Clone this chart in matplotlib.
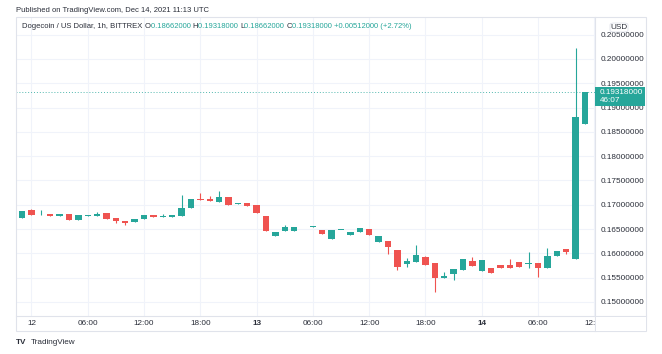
import matplotlib.pyplot as plt
import matplotlib.dates as mdates
from matplotlib.patches import Rectangle, FancyBboxPatch
from matplotlib.ticker import FuncFormatter
import pandas as pd
import numpy as np

#Hourly DOGE/USD candles, BITTREX, Dec 11 23:00 -> Dec 14 11:00 UTC
start = '2021-12-11 23:00'
opens = [0.1673, 0.1689, 0.1680, 0.1681, 0.1676, 0.1680, 0.1668, 0.1677, 0.1677, 0.1683,
         0.1672, 0.1667, 0.1665, 0.1670, 0.1678, 0.1674, 0.1674, 0.1676, 0.1693, 0.1712,
         0.1711, 0.1706, 0.1717, 0.1701, 0.1703, 0.1700, 0.1677, 0.1635, 0.1646, 0.1647,
         0.1652, 0.1655, 0.1648, 0.1629, 0.1648, 0.1637, 0.1643, 0.1650, 0.1624, 0.1626,
         0.1607, 0.1578, 0.1583, 0.1593, 0.1581, 0.1549, 0.1557, 0.1566, 0.1585, 0.1564,
         0.1570, 0.1577, 0.1576, 0.1583, 0.1578, 0.1580, 0.1570, 0.1594, 0.1608, 0.1588,
         0.18662]
closes = [0.1687, 0.1679, 0.1682, 0.1676, 0.1681, 0.1668, 0.1678, 0.1678, 0.1682, 0.1671,
          0.1666, 0.1663, 0.1671, 0.1678, 0.1674, 0.1676, 0.1678, 0.1693, 0.1711, 0.1709,
          0.1707, 0.1717, 0.1700, 0.1704, 0.1697, 0.1684, 0.1646, 0.1643, 0.1654, 0.1655,
          0.1653, 0.1656, 0.1640, 0.1649, 0.1649, 0.1643, 0.1652, 0.1638, 0.1635, 0.1613,
          0.1572, 0.1585, 0.1597, 0.1576, 0.1549, 0.1553, 0.1567, 0.1588, 0.1574, 0.1586,
          0.1559, 0.1570, 0.1569, 0.1572, 0.1579, 0.1570, 0.1594, 0.1604, 0.1603, 0.1881,
          0.19318]
highs = [0.1688, 0.1691, 0.1689, 0.1682, 0.1681, 0.1680, 0.1678, 0.1678, 0.1685, 0.1683,
         0.1672, 0.1667, 0.1671, 0.1678, 0.1678, 0.1680, 0.1678, 0.1721, 0.1711, 0.1724,
         0.1718, 0.1728, 0.1717, 0.1704, 0.1703, 0.1700, 0.1677, 0.1643, 0.1658, 0.1655,
         0.1653, 0.1656, 0.1648, 0.1649, 0.1649, 0.1643, 0.1652, 0.1650, 0.1635, 0.1626,
         0.1607, 0.1590, 0.1618, 0.1595, 0.1581, 0.1562, 0.1567, 0.1588, 0.1593, 0.1586,
         0.1570, 0.1577, 0.1588, 0.1583, 0.1602, 0.1580, 0.1611, 0.1604, 0.1608, 0.2022,
         0.19318]
lows = [0.1672, 0.1678, 0.1679, 0.1676, 0.1676, 0.1668, 0.1668, 0.1677, 0.1677, 0.1671,
        0.1663, 0.1658, 0.1665, 0.1670, 0.1674, 0.1674, 0.1674, 0.1676, 0.1693, 0.1709,
        0.1707, 0.1706, 0.1700, 0.1701, 0.1697, 0.1684, 0.1646, 0.1635, 0.1646, 0.1647,
        0.1652, 0.1655, 0.1640, 0.1629, 0.1648, 0.1637, 0.1643, 0.1638, 0.1624, 0.1598,
        0.1566, 0.1571, 0.1583, 0.1576, 0.1520, 0.1549, 0.1546, 0.1566, 0.1574, 0.1564,
        0.1559, 0.1570, 0.1569, 0.1572, 0.1570, 0.1552, 0.1570, 0.1594, 0.1598, 0.1588,
        0.18662]
last_close = 0.19318
legend_name = 'Dogecoin / US Dollar, 1h, BITTREX'
legend_ohlc = [('O', '0.18662000'), ('H', '0.19318000'), ('L', '0.18662000'), ('C', '0.19318000')]
legend_change = '+0.00512000 (+2.72%)'
countdown = '46:07'
price_ticks = [0.150, 0.155, 0.160, 0.165, 0.170, 0.175, 0.180, 0.185, 0.190, 0.195, 0.200, 0.205]

#Colors and sizes
up = '#26a69a'
down = '#ef5350'
txt = '#2a2e39'
grid = '#f0f3fa'
border = '#e0e3eb'
W, H = 662, 354
fs = 5.9
fs_head = 5.5

def fx(x):
    return x / W
def fy(y):
    return 1 - y / H

plt.rcParams['font.family'] = ['Liberation Sans', 'DejaVu Sans']
fig = plt.figure(figsize=(W / 100, H / 100), dpi=100)

ax = fig.add_axes([fx(16), fy(316), fx(595) - fx(16), fy(17) - fy(316)])

dates = pd.date_range(start, periods=len(opens), freq='h')
x = mdates.date2num(dates)
o = np.array(opens)
c = np.array(closes)
colors = np.where(c >= o, up, down)
bottoms = np.minimum(o, c)
heights = np.maximum(np.abs(c - o), 0.00012)

ax.vlines(x, lows, highs, color=colors, linewidth=0.8, zorder=2)
ax.bar(x, heights, bottom=bottoms, width=0.68 / 24, color=colors, linewidth=0, zorder=3)
ax.axhline(last_close, color=up, linestyle=(0, (1, 2)), linewidth=0.7, alpha=0.8, zorder=1)

#Axis limits from the chart pane (price scale ~24.3 px per 0.005)
t0 = mdates.date2num(pd.Timestamp('2021-12-12 00:00'))
ax.set_xlim(t0 - 1.65 / 24, t0 + 60.07 / 24)
ax.set_ylim(0.14711, 0.20864)

#Time scale
tick_dates = pd.date_range('2021-12-12 00:00', '2021-12-14 12:00', freq='6h')
ax.set_xticks(mdates.date2num(tick_dates))
def timefmt(v, pos):
    d = mdates.num2date(v)
    if d.hour == 0:
        return str(d.day)
    return d.strftime('%H:%M')
ax.xaxis.set_major_formatter(FuncFormatter(timefmt))
ax.set_yticks(price_ticks)
ax.yaxis.set_major_formatter(FuncFormatter(lambda v, pos: '%.8f' % v))
ax.yaxis.tick_right()
ax.tick_params(axis='both', length=0, labelsize=fs, labelcolor=txt)
ax.tick_params(axis='x', pad=3.2)
ax.tick_params(axis='y', pad=4)
for lab in ax.get_xticklabels():
    if ':' not in lab.get_text() and lab.get_text() != '12':
        lab.set_fontweight('bold')
ax.grid(True, color=grid, linewidth=0.8, zorder=0)
ax.set_axisbelow(True)
for s in ax.spines.values():
    s.set_visible(False)

#Pane frame, price scale separator, time scale separator
fig.patches.append(Rectangle((fx(16), fy(331)), fx(646) - fx(16), fy(17) - fy(331),
                             transform=fig.transFigure, fill=False, edgecolor=border, linewidth=0.8))
fig.add_artist(plt.Line2D([fx(595), fx(595)], [fy(17), fy(331)], color=border, linewidth=0.8))
fig.add_artist(plt.Line2D([fx(16), fx(646)], [fy(316), fy(316)], color=border, linewidth=0.8))
#cut the last time label where the price scale starts
fig.patches.append(Rectangle((fx(595.5), fy(330.5)), fx(645.5) - fx(595.5), fy(316.5) - fy(330.5),
                             transform=fig.transFigure, facecolor='white', edgecolor='none', zorder=5))

#Last price label
fig.patches.append(Rectangle((fx(595), fy(106)), fx(645) - fx(595), fy(87) - fy(106),
                             transform=fig.transFigure, facecolor=up, edgecolor='none', zorder=5))
fig.text(fx(600), fy(92.5), '%.8f' % last_close, color='white', fontsize=fs, va='center', zorder=6)
fig.text(fx(600), fy(101), countdown, color='white', fontsize=fs, va='center', zorder=6)

#USD badge
fig.patches.append(FancyBboxPatch((fx(610), fy(32)), fx(628) - fx(610), fy(23) - fy(32),
                                  boxstyle='round,pad=0,rounding_size=0.006',
                                  transform=fig.transFigure, facecolor='white', edgecolor=border,
                                  linewidth=0.6, zorder=5))
fig.text(fx(619), fy(27.5), 'USD', color=txt, fontsize=fs, ha='center', va='center', zorder=6)

#Header and legend
fig.text(fx(16), fy(10), 'Published on TradingView.com, Dec 14, 2021 11:13 UTC', color=txt,
         fontsize=fs_head, va='center')
renderer = fig.canvas.get_renderer()
xpos = fx(22)
t = fig.text(xpos, fy(27), legend_name + ' ', color=txt, fontsize=fs_head, va='center')
xpos += t.get_window_extent(renderer).width / W
for k, val in legend_ohlc:
    t = fig.text(xpos, fy(27), k, color=txt, fontsize=fs_head, va='center')
    xpos += t.get_window_extent(renderer).width / W
    t = fig.text(xpos, fy(27), val + ' ', color=up, fontsize=fs_head, va='center')
    xpos += t.get_window_extent(renderer).width / W
fig.text(xpos, fy(27), legend_change, color=up, fontsize=fs_head, va='center')

#Footer logo
fig.text(fx(16), fy(343), 'TV', color=txt, fontsize=fs, fontweight='bold', va='center')
fig.text(fx(31), fy(343), 'TradingView', color=txt, fontsize=fs, va='center')

fig.savefig('out.png', dpi=100)
